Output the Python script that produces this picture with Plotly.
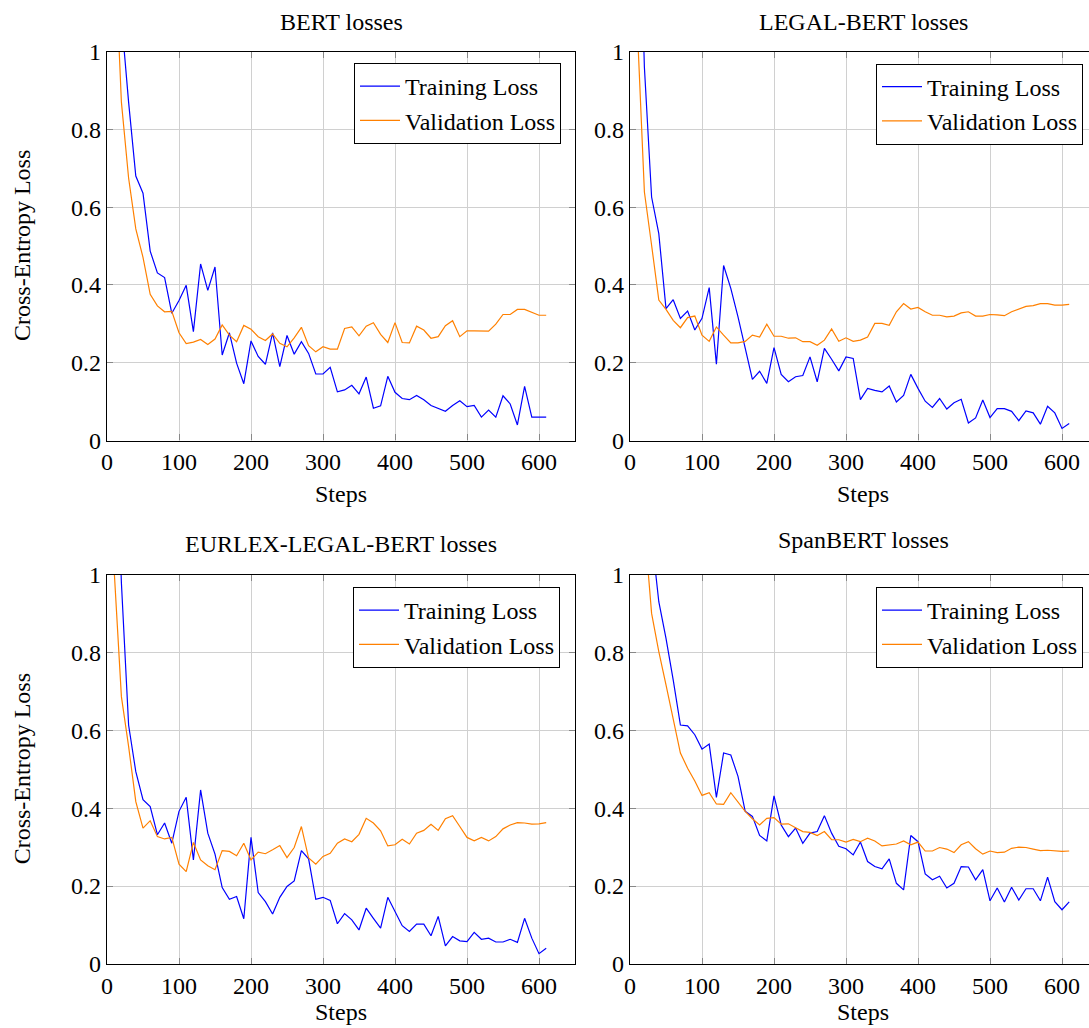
import plotly.graph_objects as go

steps = list(range(10, 620, 10))

bert_train = [1.6, 1.087, 0.87, 0.68, 0.636, 0.487, 0.431, 0.419, 0.327, 0.36,
              0.399, 0.28, 0.454, 0.386, 0.446, 0.22, 0.277, 0.199, 0.146, 0.256,
              0.216, 0.196, 0.277, 0.19, 0.27, 0.222, 0.254, 0.224, 0.171, 0.171,
              0.188, 0.125, 0.13, 0.142, 0.12, 0.163, 0.083, 0.089, 0.165, 0.124,
              0.108, 0.105, 0.116, 0.105, 0.09, 0.082, 0.075, 0.09, 0.102, 0.087,
              0.09, 0.06, 0.078, 0.06, 0.115, 0.094, 0.04, 0.139, 0.06, 0.06, 0.06]
bert_val = [1.3, 0.87, 0.675, 0.544, 0.471, 0.376, 0.346, 0.331, 0.332, 0.277,
            0.249, 0.253, 0.26, 0.247, 0.261, 0.297, 0.271, 0.254, 0.296, 0.286,
            0.267, 0.257, 0.274, 0.25, 0.241, 0.264, 0.291, 0.244, 0.228, 0.241,
            0.235, 0.235, 0.288, 0.292, 0.269, 0.294, 0.303, 0.273, 0.252, 0.303,
            0.252, 0.251, 0.294, 0.284, 0.263, 0.267, 0.295, 0.308, 0.267, 0.282,
            0.282, 0.282, 0.281, 0.299, 0.324, 0.324, 0.337, 0.337, 0.329, 0.322, 0.322]

legal_train = [1.6, 0.96, 0.626, 0.532, 0.339, 0.362, 0.314, 0.333, 0.284, 0.314,
               0.393, 0.196, 0.45, 0.391, 0.318, 0.237, 0.157, 0.178, 0.147, 0.239,
               0.17, 0.151, 0.164, 0.167, 0.215, 0.151, 0.237, 0.209, 0.179, 0.215,
               0.211, 0.105, 0.134, 0.129, 0.125, 0.14, 0.099, 0.116, 0.17, 0.134,
               0.101, 0.085, 0.108, 0.081, 0.097, 0.106, 0.045, 0.058, 0.104, 0.059,
               0.082, 0.082, 0.075, 0.051, 0.076, 0.071, 0.042, 0.088, 0.071, 0.031, 0.044]
legal_val = [1.069, 0.639, 0.502, 0.361, 0.337, 0.309, 0.29, 0.316, 0.32, 0.271,
             0.255, 0.292, 0.271, 0.251, 0.251, 0.255, 0.271, 0.266, 0.299, 0.268,
             0.268, 0.263, 0.264, 0.254, 0.254, 0.245, 0.258, 0.287, 0.255, 0.264,
             0.255, 0.258, 0.266, 0.301, 0.301, 0.296, 0.331, 0.352, 0.338, 0.342,
             0.331, 0.322, 0.322, 0.318, 0.32, 0.328, 0.331, 0.32, 0.32, 0.324,
             0.323, 0.321, 0.331, 0.339, 0.345, 0.347, 0.352, 0.352, 0.348, 0.348, 0.35]

eurlex_train = [1.5, 0.98, 0.614, 0.494, 0.422, 0.404, 0.332, 0.362, 0.31, 0.392,
                0.428, 0.267, 0.447, 0.336, 0.282, 0.196, 0.166, 0.173, 0.116, 0.325,
                0.183, 0.16, 0.128, 0.171, 0.199, 0.213, 0.291, 0.27, 0.166, 0.171,
                0.163, 0.103, 0.129, 0.113, 0.087, 0.143, 0.117, 0.092, 0.171, 0.135,
                0.098, 0.083, 0.102, 0.102, 0.072, 0.122, 0.046, 0.07, 0.059, 0.057,
                0.081, 0.063, 0.066, 0.056, 0.056, 0.063, 0.055, 0.117, 0.066, 0.026, 0.04]
eurlex_val = [1.01, 0.687, 0.559, 0.417, 0.349, 0.368, 0.327, 0.321, 0.325, 0.256,
              0.237, 0.312, 0.267, 0.252, 0.242, 0.291, 0.289, 0.278, 0.31, 0.267,
              0.287, 0.283, 0.293, 0.304, 0.273, 0.299, 0.353, 0.272, 0.256, 0.276,
              0.284, 0.31, 0.321, 0.314, 0.333, 0.374, 0.362, 0.342, 0.303, 0.306,
              0.32, 0.308, 0.336, 0.343, 0.359, 0.343, 0.373, 0.381, 0.353, 0.325,
              0.316, 0.325, 0.316, 0.327, 0.347, 0.357, 0.363, 0.362, 0.359, 0.36, 0.363]

span_train = [1.5, 1.3, 1.1, 0.931, 0.837, 0.73, 0.614, 0.612, 0.589, 0.552,
              0.565, 0.428, 0.542, 0.537, 0.482, 0.392, 0.379, 0.33, 0.316, 0.432,
              0.357, 0.327, 0.349, 0.31, 0.336, 0.34, 0.381, 0.336, 0.302, 0.296,
              0.28, 0.313, 0.263, 0.25, 0.244, 0.27, 0.207, 0.19, 0.33, 0.314,
              0.231, 0.216, 0.225, 0.195, 0.207, 0.25, 0.249, 0.216, 0.242, 0.162,
              0.195, 0.159, 0.197, 0.164, 0.193, 0.193, 0.162, 0.223, 0.16, 0.139, 0.159]
span_val = [1.4, 1.126, 0.901, 0.803, 0.717, 0.632, 0.542, 0.503, 0.47, 0.433,
            0.44, 0.411, 0.41, 0.44, 0.416, 0.392, 0.373, 0.357, 0.374, 0.376,
            0.359, 0.36, 0.35, 0.34, 0.338, 0.33, 0.34, 0.319, 0.319, 0.313,
            0.32, 0.314, 0.323, 0.316, 0.303, 0.306, 0.308, 0.316, 0.306, 0.313,
            0.29, 0.29, 0.299, 0.295, 0.286, 0.306, 0.314, 0.296, 0.282, 0.29,
            0.286, 0.287, 0.297, 0.3, 0.299, 0.295, 0.291, 0.292, 0.29, 0.289, 0.29]

titles = ["BERT losses", "LEGAL-BERT losses", "EURLEX-LEGAL-BERT losses", "SpanBERT losses"]
series_names = ["Training Loss", "Validation Loss"]
x_ticks = [0, 100, 200, 300, 400, 500, 600]
y_ticks = [0, 0.2, 0.4, 0.6, 0.8, 1]
y_tick_labels = ["0", "0.2", "0.4", "0.6", "0.8", "1"]

data = [(bert_train, bert_val), (legal_train, legal_val),
        (eurlex_train, eurlex_val), (span_train, span_val)]

W, H = 1089, 1028
FONT = "Liberation Serif"
FS = 24
BLUE = "#0000ff"
ORANGE = "#ff8000"

# pixel boxes: (left, right, top, bottom)
boxes = [(107, 575, 51.6, 440.5), (630, 1089, 51.6, 440.5),
         (107, 575, 574.9, 963.8), (630, 1089, 574.9, 963.8)]
xmax = [650, 637.5, 650, 637.5]
legend_pos = [(561, 63), (1083, 63.5), (560, 587), (1083, 587)]
title_pos = [(341, 22), (863, 22), (341, 544), (863, 540)]
steps_label_pos = [(341, 494), (863, 494), (341, 1012), (863, 1012)]

fig = go.Figure()
layout = dict(width=W, height=H, autosize=False,
              margin=dict(l=0, r=0, t=0, b=0, pad=0, autoexpand=False),
              paper_bgcolor="white", plot_bgcolor="white",
              font=dict(family=FONT, size=FS, color="black"),
              annotations=[])

for i, (tr, va) in enumerate(data):
    n = "" if i == 0 else str(i + 1)
    lg = "legend" + n
    fig.add_trace(go.Scatter(x=steps, y=tr, mode="lines", name=series_names[0],
                             line=dict(color=BLUE, width=1.2),
                             xaxis="x" + n, yaxis="y" + n, legend=lg))
    fig.add_trace(go.Scatter(x=steps, y=va, mode="lines", name=series_names[1],
                             line=dict(color=ORANGE, width=1.2),
                             xaxis="x" + n, yaxis="y" + n, legend=lg))
    l, r, t, b = boxes[i]
    right_side = i in (1, 3)
    layout["xaxis" + n] = dict(
        domain=[l / W, r / W], anchor="y" + n, range=[0, xmax[i]],
        tickvals=x_ticks, ticks="inside", ticklen=6, tickcolor="#888888",
        showgrid=True, gridcolor="#d0d0d0", gridwidth=1,
        showline=True, linecolor="black", linewidth=1.2, mirror="ticks",
        zeroline=False, automargin=False,
        tickfont=dict(size=FS, family=FONT, color="black"),
    )
    layout["yaxis" + n] = dict(
        domain=[(H - b) / H, (H - t) / H], anchor="x" + n, range=[0, 1],
        tickvals=y_ticks, ticktext=y_tick_labels, ticks="inside", ticklen=6,
        tickcolor="#888888",
        showgrid=True, gridcolor="#d0d0d0", gridwidth=1,
        showline=True, linecolor="black", linewidth=1.2,
        mirror=False if right_side else "ticks",
        zeroline=False, automargin=False,
        tickfont=dict(size=FS, family=FONT, color="black"),
    )
    lx, ly = legend_pos[i]
    layout[lg] = dict(x=lx / W, y=(H - ly) / H, xanchor="right", yanchor="top",
                      xref="paper", yref="paper",
                      bgcolor="white", bordercolor="black", borderwidth=1,
                      font=dict(size=FS, family=FONT, color="black"),
                      itemwidth=40, tracegroupgap=0)
    tx, ty = title_pos[i]
    layout["annotations"].append(dict(text=titles[i], x=tx / W, y=(H - ty) / H,
                                      xref="paper", yref="paper", showarrow=False,
                                      xanchor="center", yanchor="middle",
                                      font=dict(size=FS, family=FONT)))
    sx, sy = steps_label_pos[i]
    layout["annotations"].append(dict(text="Steps", x=sx / W, y=(H - sy) / H,
                                      xref="paper", yref="paper", showarrow=False,
                                      xanchor="center", yanchor="middle",
                                      font=dict(size=FS, family=FONT)))
    if not right_side:
        cy = (t + b) / 2
        layout["annotations"].append(dict(text="Cross-Entropy Loss", x=22 / W,
                                          y=(H - cy) / H, xref="paper", yref="paper",
                                          showarrow=False, textangle=-90,
                                          xanchor="center", yanchor="middle",
                                          font=dict(size=FS, family=FONT)))

fig.update_layout(**layout)
fig.write_html("out.html",
               config={"displayModeBar": False},
               post_script="document.body.style.margin='0';document.body.style.padding='0';document.body.style.overflow='hidden';")
